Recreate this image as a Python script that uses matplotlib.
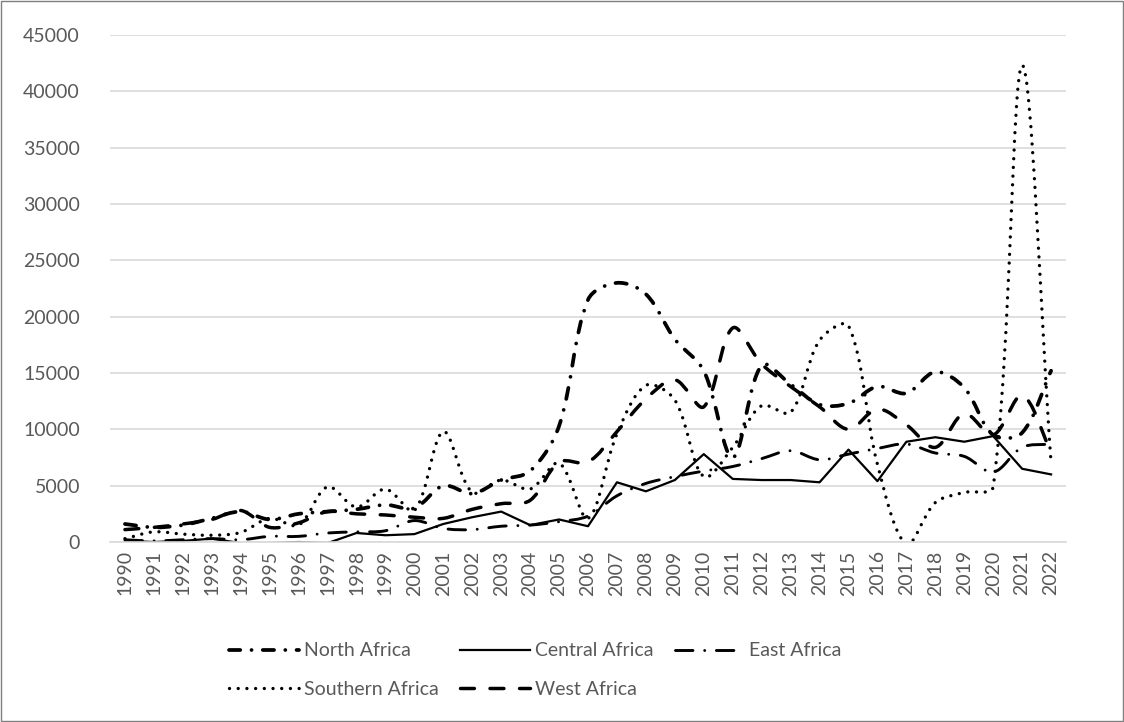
import numpy as np
import matplotlib
matplotlib.use("Agg")
import matplotlib.pyplot as plt
from matplotlib.path import Path
from matplotlib.patches import PathPatch, Rectangle
from matplotlib.lines import Line2D

plt.rcParams['font.family'] = ['Lato', 'DejaVu Sans']

years = list(range(1990, 2023))

north_africa = [1600, 1300, 1500, 2100, 2700, 2000, 2500, 2700, 2900, 3300, 3000, 5000, 4300,
                5500, 6300, 10300, 21500, 23000, 22000, 18000, 15200, 7500, 15700, 14000,
                12200, 12300, 13800, 13200, 15100, 13700, 9500, 9700, 15200]
central_africa = [100, 0, 100, 300, -100, -100, 0, -100, 800, 600, 700, 1600, 2200,
                  2700, 1500, 2000, 1400, 5300, 4500, 5500, 7800, 5600, 5500, 5500,
                  5300, 8200, 5400, 8900, 9300, 8900, 9400, 6500, 6000]
east_africa = [200, 100, 200, 300, 200, 500, 500, 800, 900, 1000, 1900, 1200, 1100,
               1400, 1500, 1800, 2300, 4100, 5200, 5800, 6300, 6700, 7400, 8100,
               7300, 7800, 8300, 8700, 7900, 7600, 6200, 8400, 8700]
southern_africa = [300, 900, 700, 600, 850, 2100, 1500, 4900, 3100, 4700, 2800, 9800, 4400,
                   5500, 4700, 7000, 2100, 9600, 13900, 12600, 5800, 8400, 12100, 11500,
                   17900, 19200, 6900, -200, 3500, 4400, 4900, 42300, 7000]
west_africa = [1100, 1300, 1600, 2000, 2800, 1300, 1700, 2700, 2500, 2400, 2200, 2100, 2900,
               3400, 3700, 7100, 7100, 9800, 12700, 14400, 12000, 19000, 15800, 13800,
               12000, 10000, 11800, 10400, 8400, 11400, 9500, 13000, 8000]

# rough pixel scale of the plot, only used to weight the smoothing
PX_PER_YEAR = 29.0
PX_PER_UNIT = 507.0 / 45000


def smooth_path(x, y):
    # Excel-like smoothed line: cubic beziers, tangents weighted by segment length
    n = len(x)
    pts = [(xi * PX_PER_YEAR, yi * PX_PER_UNIT) for xi, yi in zip(x, y)]

    def dist(i, j):
        return np.hypot(pts[j][0] - pts[i][0], pts[j][1] - pts[i][1])

    verts = [(x[0], y[0])]
    codes = [Path.MOVETO]
    for i in range(n - 1):
        a = i - 1 if i > 0 else i
        d = i + 2 if i + 2 < n else i + 1
        seg = dist(i, i + 1)
        d_prev = dist(a, i)
        d_next = dist(i + 1, d)
        f1 = seg / (d_prev + seg) / 3 if d_prev + seg > 0 else 0
        f2 = seg / (seg + d_next) / 3 if seg + d_next > 0 else 0
        c1 = (x[i] + (x[i + 1] - x[a]) * f1, y[i] + (y[i + 1] - y[a]) * f1)
        c2 = (x[i + 1] - (x[d] - x[i]) * f2, y[i + 1] - (y[d] - y[i]) * f2)
        verts += [c1, c2, (x[i + 1], y[i + 1])]
        codes += [Path.CURVE4] * 3
    return Path(verts, codes)


series = [
    ('North Africa', north_africa, 2.7, (0, (3.0, 3.0, 0.01, 3.0)), True),
    ('Central Africa', central_africa, 1.6, '-', False),
    ('East Africa', east_africa, 2.1, (0, (6, 4, 0.01, 4)), True),
    ('Southern Africa', southern_africa, 2.4, (0, (0.01, 2.6)), True),
    ('West Africa', west_africa, 2.5, (0, (4, 4.5)), True),
]

fig = plt.figure(figsize=(11.24, 7.22), dpi=100)
ax = fig.add_axes([0.0983, 0.2493, 0.8497, 0.7022])

handles = {}
for name, vals, lw, ls, smooth in series:
    if smooth:
        patch = PathPatch(smooth_path(years, vals), fill=False, edgecolor='black',
                          linewidth=lw, linestyle=ls, capstyle='round', joinstyle='round')
        ax.add_patch(patch)
    else:
        ax.plot(years, vals, color='black', linewidth=lw, linestyle=ls)
    handles[name] = Line2D([], [], color='black', linewidth=lw, linestyle=ls,
                           dash_capstyle='round')

ax.set_xlim(1989.5, 2022.5)
ax.set_ylim(0, 45000)
ax.set_yticks(range(0, 45001, 5000))
ax.set_xticks(years)
ax.set_xticklabels([str(y) for y in years], rotation=90)
ax.tick_params(axis='both', length=0, labelsize=14, colors='#595959')
ax.tick_params(axis='x', pad=6)
ax.tick_params(axis='y', pad=22)
ax.grid(axis='y', color='#d9d9d9', linewidth=1.2)
ax.set_axisbelow(True)
for side in ['top', 'right', 'left']:
    ax.spines[side].set_visible(False)
ax.spines['bottom'].set_color('#d9d9d9')
ax.spines['bottom'].set_linewidth(1.2)

# row-major order for a 3 column legend
order = ['North Africa', 'Southern Africa', 'Central Africa', 'West Africa', 'East Africa']
fig.legend([handles[k] for k in order], order, ncol=3, frameon=False, fontsize=14,
           handlelength=3.6, handletextpad=0.25, columnspacing=1.1, labelspacing=1.1,
           labelcolor='#595959', loc='center left', bbox_to_anchor=(0.188, 0.072))

fig.patches.append(Rectangle((0.0005, 0.0008), 0.999, 0.998, transform=fig.transFigure,
                             fill=False, edgecolor='#7f7f7f', linewidth=1))

fig.savefig('out.png', dpi=100)
